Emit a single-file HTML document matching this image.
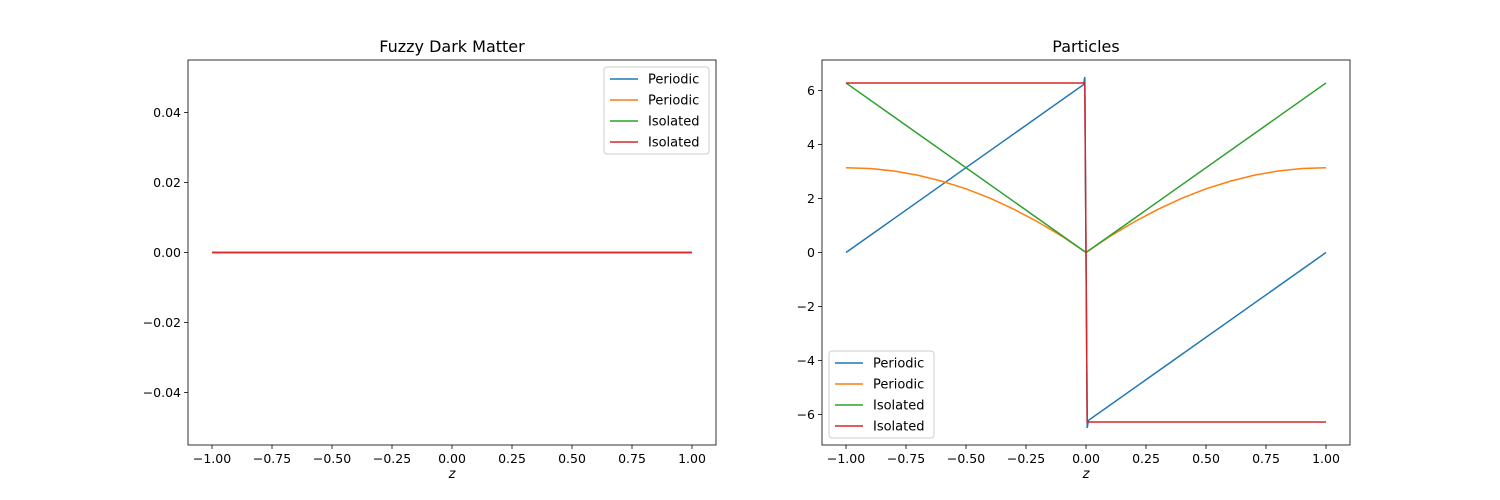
<!DOCTYPE html>
<html><head><meta charset="utf-8"><style>
body{margin:0;background:#fff}
svg{display:block;font-family:"DejaVu Sans","Liberation Sans",sans-serif}
</style></head><body>
<svg id="fig" width="1500" height="500" xmlns="http://www.w3.org/2000/svg"></svg>
<script>
const colors=['#1f77b4','#ff7f0e','#2ca02c','#d62728'];
const names=['Periodic','Periodic','Isolated','Isolated'];
const xTicks=[-1,-0.75,-0.5,-0.25,0,0.25,0.5,0.75,1];
const xTickLabels=['−1.00','−0.75','−0.50','−0.25','0.00','0.25','0.50','0.75','1.00'];
const leftYTicks=[-0.04,-0.02,0,0.02,0.04];
const leftYTickLabels=['−0.04','−0.02','0.00','0.02','0.04'];
const rightYTicks=[-6,-4,-2,0,2,4,6];
const rightYTickLabels=['−6','−4','−2','0','2','4','6'];
const fdmX=[-1,1];
const fdmSeries=[[0,0],[0,0],[0,0],[0,0]];
const pBlueX=[-1,-0.01,-0.005,0.005,0.01,1];
const pBlueY=[0,6.22,6.5,-6.5,-6.22,0];
const pOrangeX=[-1,-0.9,-0.8,-0.7,-0.6,-0.5,-0.4,-0.3,-0.2,-0.1,0,0.1,0.2,0.3,0.4,0.5,0.6,0.7,0.8,0.9,1];
const pOrangeY=[3.14,3.11,3.02,2.86,2.64,2.36,2.01,1.60,1.13,0.60,0,0.60,1.13,1.60,2.01,2.36,2.64,2.86,3.02,3.11,3.14];
const pGreenX=[-1,0,1];
const pGreenY=[6.28,0,6.28];
const pRedX=[-1,-0.005,0.005,1];
const pRedY=[6.28,6.28,-6.28,-6.28];
const NS='http://www.w3.org/2000/svg';
const svg=document.getElementById('fig');
function mk(t,a,p){const e=document.createElementNS(NS,t);for(const k in a)e.setAttribute(k,a[k]);(p||svg).appendChild(e);return e;}
function panel(o){
  const g=mk('g',{});
  
  
  const sx=v=>o.x0+(v-o.xmin)/(o.xmax-o.xmin)*(o.x1-o.x0);
  const sy=v=>o.y1-(v-o.ymin)/(o.ymax-o.ymin)*(o.y1-o.y0);
  o.series.forEach((s,i)=>{
    const p=mk('polyline',{points:s.x.map((x,j)=>sx(x)+','+sy(s.y[j])).join(' '),fill:'none',stroke:colors[i],'stroke-width':1.5},g);
    
    
  });
  const fr=mk('rect',{x:o.x0,y:o.y0,width:o.x1-o.x0,height:o.y1-o.y0,fill:'none',stroke:'#000','stroke-width':0.8},g);
  
  
  xTicks.forEach((v,i)=>{const X=sx(v);mk('line',{x1:X,x2:X,y1:o.y1,y2:o.y1+4,stroke:'#000','stroke-width':0.8},g);
    const t=mk('text',{x:X,y:o.y1+18,'text-anchor':'middle','font-size':12.5},g);t.textContent=xTickLabels[i];
    
    });
  o.yt.forEach((v,i)=>{const Y=sy(v);mk('line',{x1:o.x0-4,x2:o.x0,y1:Y,y2:Y,stroke:'#000','stroke-width':0.8},g);
    const t=mk('text',{x:o.x0-7,y:Y+4.5,'text-anchor':'end','font-size':12.5},g);t.textContent=o.ytl[i];
    
    });
  const ti=mk('text',{x:(o.x0+o.x1)/2,y:o.y0-8,'text-anchor':'middle','font-size':16},g);ti.textContent=o.title;
  
  
  const xl=mk('text',{x:(o.x0+o.x1)/2,y:o.y1+33,'text-anchor':'middle','font-size':13,'font-style':'italic'},g);xl.textContent='z';
  
  
  const lg=mk('g',{},g);
  
  
  mk('rect',{x:o.lx,y:o.ly,width:105,height:87,rx:3,fill:'#fff','fill-opacity':0.8,stroke:'#ccc'},lg);
  names.forEach((n,i)=>{const Y=o.ly+12+i*21;
    mk('line',{x1:o.lx+6,x2:o.lx+34,y1:Y,y2:Y,stroke:colors[i],'stroke-width':1.5},lg);
    const t=mk('text',{x:o.lx+44,y:Y+4.5,'font-size':13},lg);t.textContent=n;
    
    });
}
panel({name:'fuzzy-dark-matter-panel',title:'Fuzzy Dark Matter',x0:188,x1:716,y0:60,y1:445,xmin:-1.1,xmax:1.1,
  ymin:-0.055,ymax:0.055,yt:leftYTicks,ytl:leftYTickLabels,lx:604,ly:67,
  series:fdmSeries.map(y=>({x:fdmX,y:y}))});
panel({name:'particles-panel',title:'Particles',x0:822,x1:1350,y0:60,y1:445,xmin:-1.1,xmax:1.1,
  ymin:-7.13,ymax:7.13,yt:rightYTicks,ytl:rightYTickLabels,lx:829,ly:351,
  series:[{x:pBlueX,y:pBlueY},{x:pOrangeX,y:pOrangeY},{x:pGreenX,y:pGreenY},{x:pRedX,y:pRedY}]});
</script>
</body></html>
